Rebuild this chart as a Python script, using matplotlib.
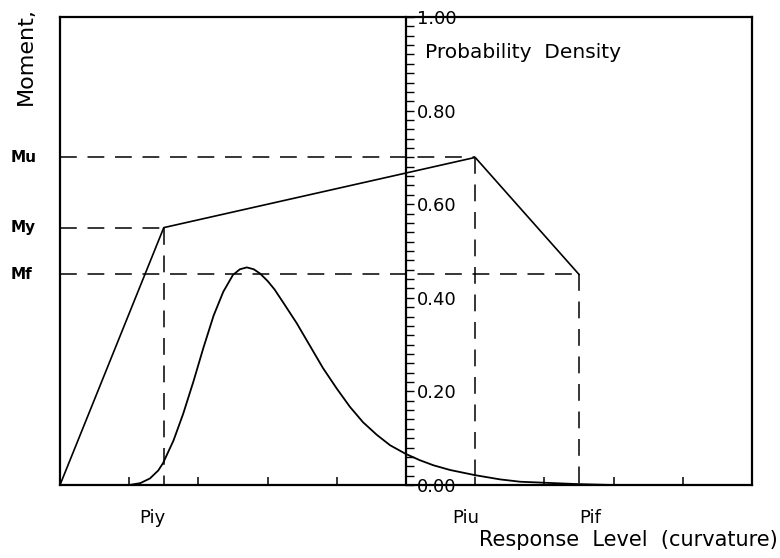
import matplotlib

matplotlib.use("Agg")

import matplotlib.pyplot as plt
from matplotlib.ticker import MultipleLocator
from matplotlib.transforms import blended_transform_factory

# response level (curvature), 0..10 across the box
piy, piu, pif = 1.5, 6.0, 7.5
# moment levels, same 0..1 scale as the density axis
my_, mu_, mf_ = 0.55, 0.70, 0.45

moment_x = [0.0, piy, piu, pif]
moment_y = [0.0, my_, mu_, mf_]

# probability density
dens_x = [1.0, 1.16, 1.30, 1.42, 1.49, 1.64, 1.78, 1.93, 2.07, 2.22, 2.36,
          2.50, 2.60, 2.70, 2.80, 2.89, 3.0, 3.1, 3.23, 3.42, 3.61, 3.80,
          4.00, 4.19, 4.38, 4.58, 4.77, 4.99, 5.20, 5.40, 5.64, 6.0, 6.36,
          6.65, 6.98, 7.47, 8.0]
dens_y = [0.0, 0.004, 0.014, 0.031, 0.047, 0.095, 0.152, 0.222, 0.292,
          0.362, 0.413, 0.449, 0.461, 0.465, 0.461, 0.452, 0.436, 0.418,
          0.389, 0.346, 0.298, 0.250, 0.206, 0.167, 0.134, 0.107, 0.085,
          0.067, 0.053, 0.042, 0.032, 0.021, 0.012, 0.007, 0.005, 0.002,
          0.0]

level_names = ["My", "Mu", "Mf"]
point_names = ["Piy", "Piu", "Pif"]

fig = plt.figure(figsize=(7.8, 5.58), dpi=100)
ax = fig.add_axes([0.0769, 0.1308, 0.8872, 0.8387])
ax.set_xlim(0, 10)
ax.set_ylim(0, 1)

for s in ax.spines.values():
    s.set_linewidth(1.6)
ax.set_yticks([])
ax.set_xticks(range(1, 10))
ax.tick_params(axis="x", direction="in", length=6, width=1.1, labelbottom=False)

dash = (0, (11, 7))
ax.plot(moment_x, moment_y, color="black", lw=1.2)
ax.plot(dens_x, dens_y, color="black", lw=1.3, solid_joinstyle="round")

for px, lv in zip([piy, piu, pif], [my_, mu_, mf_]):
    ax.plot([0, px], [lv, lv], color="black", lw=1.1, linestyle=dash)
    ax.plot([px, px], [lv, 0], color="black", lw=1.1, linestyle=dash)

# probability density axis in the middle
ax2 = ax.twinx()
ax2.set_ylim(0, 1)
for k in ["left", "top", "bottom"]:
    ax2.spines[k].set_visible(False)
ax2.spines["right"].set_position(("data", 5))
ax2.spines["right"].set_linewidth(1.6)
ax2.yaxis.set_major_locator(MultipleLocator(0.2))
ax2.yaxis.set_minor_locator(MultipleLocator(0.02))
ax2.yaxis.set_major_formatter(lambda v, p: f"{v:.2f}")
ax2.tick_params(axis="y", which="both", direction="out", length=6, width=1.0,
                pad=2, labelsize=13)

trans = blended_transform_factory(ax.transAxes, ax.transData)
for name, lv in zip(level_names, [my_, mu_, mf_]):
    ax.text(-0.072, lv, name, transform=trans, ha="left", va="center",
            fontsize=11, fontweight="bold")

for name, xf in zip(point_names, [0.133, 0.587, 0.766]):
    ax.text(xf, -0.07, name, transform=ax.transAxes, ha="center",
            va="center", fontsize=13)

ax.text(-0.049, 1.021, "Moment,", transform=ax.transAxes, rotation=90,
        ha="center", va="top", fontsize=16)
ax.text(0.527, 0.925, "Probability  Density", transform=ax.transAxes,
        ha="left", va="center", fontsize=14.5)
fig.text(0.997, 0.032, "Response  Level  (curvature)", ha="right",
         va="center", fontsize=15)

fig.savefig("out.png", dpi=100)
plt.close(fig)
